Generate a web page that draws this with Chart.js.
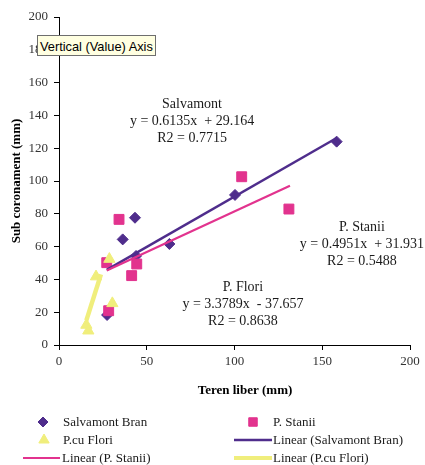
<!DOCTYPE html>
<html lang="ro">
<head>
    <meta charset="UTF-8">
    <title>Sub coronament vs Teren liber</title>
    <script src="https://cdn.jsdelivr.net/npm/chart.js"></script>
    <style>
        body {
            margin: 0;
            padding: 0;
            background: #ffffff;
        }
        .wrap {
            position: relative;
            width: 425px;
            height: 465px;
        }
        .axis-tip {
            position: absolute;
            left: 37px;
            top: 35px;
            padding: 2px 2px 0 2px;
            height: 17px;
            background: #ffffe1;
            border: 1px solid #6e6e6e;
            font-family: "Liberation Sans", Arial, sans-serif;
            font-size: 12.8px;
            line-height: 17px;
            color: #000;
            white-space: nowrap;
        }
    </style>
</head>
<body>
    <div class="wrap">
        <canvas id="treeChart" width="425" height="465"></canvas>
        <div class="axis-tip">Vertical (Value) Axis</div>
    </div>

    <script>
        // masuratori (mm)
        const salvX = [27.4, 36.3, 43.3, 43.9, 62.9, 100.3, 158.2];
        const salvY = [18.3, 64.4, 77.6, 54.3, 61.6, 91.5, 124];
        const stanX = [27.2, 28.3, 34.2, 41.4, 44.3, 104.1, 131];
        const stanY = [50.2, 20.9, 76.6, 42.3, 49.4, 102.6, 82.9];
        const floriX = [15.6, 16.7, 21.1, 28.7, 30.4];
        const floriY = [12.2, 8.7, 41.7, 52.4, 25.4];

        // ecuatiile liniilor de tendinta: [panta, interceptie, r2, x start, x final]
        const salvFit = [0.6135, 29.164, 0.7715, 27.2, 158.2];
        const stanFit = [0.4951, 31.931, 0.5488, 27.2, 131.6];
        const floriFit = [3.3789, -37.657, 0.8638, 15.6, 23.9];

        const xTicks = [0, 50, 100, 150, 200];
        const yTicks = [0, 20, 40, 60, 80, 100, 120, 140, 160, 180, 200];

        const PURPLE = "#4f2d8c";
        const PINK = "#e2338e";
        const YELLOW = "#f0ee7c";
        const SERIF = "'Liberation Serif', 'Times New Roman', serif";

        function pts(xs, ys) {
            return xs.map((x, i) => ({ x: x, y: ys[i] }));
        }

        function fitLine(fit) {
            return [fit[3], fit[4]].map(x => ({ x: x, y: fit[0] * x + fit[1] }));
        }

        function fmt(n) {
            return n.toFixed(4).replace(/0+$/, "").replace(/\.$/, "");
        }

        function eqText(fit) {
            const sign = fit[1] < 0 ? "-" : "+";
            return "y = " + fmt(fit[0]) + "x  " + sign + " " + Math.abs(fit[1]).toFixed(3);
        }

        // blocurile de text cu ecuatii, pozitionate in unitati de date
        const notes = [
            { title: "Salvamont", fit: salvFit, x: 75.8, y: 136.6 },
            { title: "P. Stanii", fit: stanFit, x: 172.6, y: 61.6 },
            { title: "P. Flori", fit: floriFit, x: 104.8, y: 25 }
        ];

        const legendItems = [
            { text: "Salvamont Bran", kind: "point", style: "rectRot", color: PURPLE, r: 5, x: 43, y: 422, tx: 63 },
            { text: "P. Stanii", kind: "point", style: "rect", color: PINK, r: 6, x: 253, y: 422, tx: 273 },
            { text: "P.cu Flori", kind: "point", style: "triangle", color: YELLOW, r: 6, x: 44, y: 440, tx: 63 },
            { text: "Linear (Salvamont Bran)", kind: "line", color: PURPLE, w: 2.5, x0: 234, x1: 272, y: 440, tx: 273 },
            { text: "Linear (P. Stanii)", kind: "line", color: PINK, w: 2, x0: 23, x1: 60, y: 458, tx: 62 },
            { text: "Linear (P.cu Flori)", kind: "line", color: YELLOW, w: 4, x0: 234, x1: 272, y: 458, tx: 273 }
        ];

        const textPlugin = {
            id: "textPlugin",
            afterDraw(chart) {
                const ctx = chart.ctx;
                const xs = chart.scales.x;
                const ys = chart.scales.y;
                ctx.save();
                ctx.fillStyle = "#1a1a1a";
                ctx.textAlign = "center";
                ctx.textBaseline = "middle";
                ctx.font = "14px " + SERIF;
                notes.forEach(n => {
                    const cx = xs.getPixelForValue(n.x);
                    const cy = ys.getPixelForValue(n.y);
                    ctx.fillText(n.title, cx, cy - 17);
                    ctx.fillText(eqText(n.fit), cx, cy);
                    ctx.fillText("R2 = " + n.fit[2].toFixed(4), cx, cy + 17);
                });

                // titlul axei X
                ctx.fillStyle = "#000";
                ctx.font = "bold 13px " + SERIF;
                ctx.fillText("Teren liber (mm)", 245, 391);

                // legenda pe doua coloane
                ctx.font = "13px " + SERIF;
                ctx.textAlign = "left";
                legendItems.forEach(it => {
                    if (it.kind === "point") {
                        ctx.fillStyle = it.color;
                        ctx.strokeStyle = it.color;
                        ctx.lineWidth = 1;
                        Chart.helpers.drawPoint(ctx, { pointStyle: it.style, radius: it.r, borderWidth: 1 }, it.x, it.y);
                    } else {
                        ctx.strokeStyle = it.color;
                        ctx.lineWidth = it.w;
                        ctx.beginPath();
                        ctx.moveTo(it.x0, it.y);
                        ctx.lineTo(it.x1, it.y);
                        ctx.stroke();
                    }
                    ctx.fillStyle = "#1a1a1a";
                    ctx.fillText(it.text, it.tx, it.y + 1);
                });
                ctx.restore();
            }
        };

        const ctx = document.getElementById("treeChart").getContext("2d");

        const chart = new Chart(ctx, {
            type: "scatter",
            data: {
                datasets: [
                    {
                        label: "Salvamont Bran",
                        data: pts(salvX, salvY),
                        pointStyle: "rectRot",
                        pointRadius: 5.5,
                        backgroundColor: PURPLE,
                        borderColor: PURPLE,
                        order: 6
                    },
                    {
                        label: "P. Stanii",
                        data: pts(stanX, stanY),
                        pointStyle: "rect",
                        pointRadius: 7,
                        backgroundColor: PINK,
                        borderColor: PINK,
                        order: 5
                    },
                    {
                        label: "P.cu Flori",
                        data: pts(floriX, floriY),
                        pointStyle: "triangle",
                        pointRadius: 6.5,
                        backgroundColor: YELLOW,
                        borderColor: YELLOW,
                        order: 4
                    },
                    {
                        label: "Linear (Salvamont Bran)",
                        data: fitLine(salvFit),
                        showLine: true,
                        pointRadius: 0,
                        borderColor: PURPLE,
                        borderWidth: 2.5,
                        order: 3
                    },
                    {
                        label: "Linear (P. Stanii)",
                        data: fitLine(stanFit),
                        showLine: true,
                        pointRadius: 0,
                        borderColor: PINK,
                        borderWidth: 2.2,
                        order: 2
                    },
                    {
                        label: "Linear (P.cu Flori)",
                        data: fitLine(floriFit),
                        showLine: true,
                        pointRadius: 0,
                        borderColor: YELLOW,
                        borderWidth: 4.5,
                        order: 1
                    }
                ]
            },
            options: {
                responsive: false,
                animation: false,
                layout: {
                    padding: { left: 0, top: 17, right: 15, bottom: 90 }
                },
                plugins: {
                    legend: { display: false },
                    tooltip: { enabled: false }
                },
                scales: {
                    x: {
                        type: "linear",
                        min: 0,
                        max: 200,
                        afterBuildTicks: s => { s.ticks = xTicks.map(v => ({ value: v })); },
                        afterFit: s => { s.height = 30; },
                        border: { color: "#000", width: 1 },
                        grid: { drawOnChartArea: false, tickLength: 5, color: "#000" },
                        ticks: {
                            color: "#333",
                            padding: 4,
                            maxRotation: 0,
                            font: { family: SERIF, size: 13 }
                        }
                    },
                    y: {
                        type: "linear",
                        min: 0,
                        max: 200,
                        afterBuildTicks: s => { s.ticks = yTicks.map(v => ({ value: v })); },
                        afterFit: s => { s.width = 59; },
                        border: { color: "#000", width: 1 },
                        grid: { drawOnChartArea: false, tickLength: 5, color: "#000" },
                        title: {
                            display: true,
                            text: "Sub coronament (mm)",
                            color: "#000",
                            padding: { top: 9, bottom: 0 },
                            font: { family: SERIF, size: 13, weight: "bold" }
                        },
                        ticks: {
                            color: "#333",
                            padding: 6,
                            font: { family: SERIF, size: 13 }
                        }
                    }
                }
            },
            plugins: [textPlugin]
        });
    </script>
</body>
</html>
